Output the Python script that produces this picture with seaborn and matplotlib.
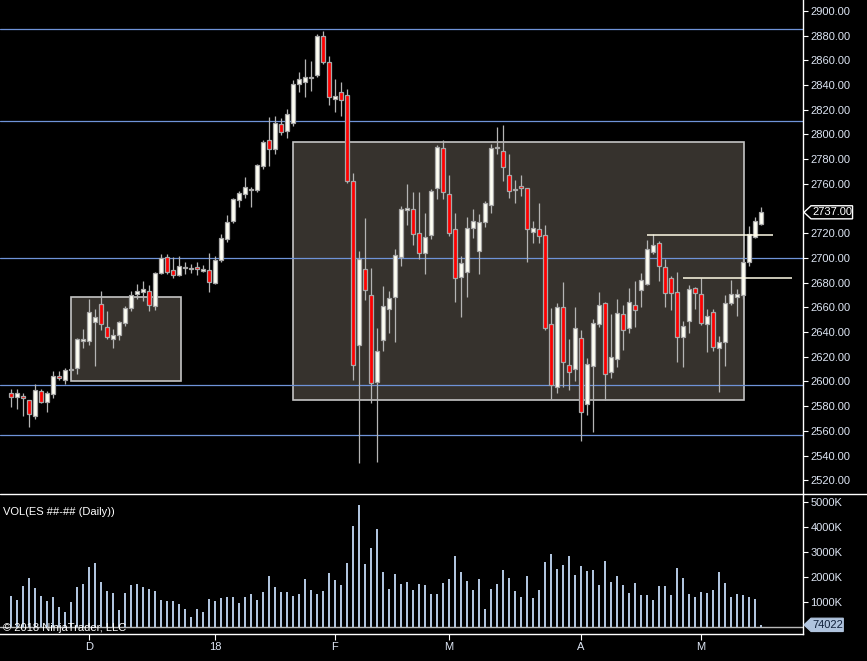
import numpy as np
import pandas as pd
import matplotlib
matplotlib.use("Agg")
import matplotlib.pyplot as plt
from matplotlib.patches import Rectangle, Polygon
from matplotlib.lines import Line2D
import seaborn as sns

# daily OHLC
opens = [2590.4, 2587.7, 2588.0, 2584.8, 2572.4, 2592.1, 2583.7, 2590.2, 2604.2, 2601.0,
         2609.5, 2610.7, 2633.5, 2633.1, 2648.5, 2662.8, 2643.9, 2634.7, 2638.0, 2647.7,
         2659.5, 2671.1, 2672.8, 2673.6, 2661.0, 2688.1, 2700.8, 2690.0, 2686.5, 2692.4,
         2691.6, 2692.4, 2689.2, 2690.0, 2680.0, 2698.7, 2715.7, 2730.2, 2746.7, 2751.6,
         2755.3, 2755.3, 2774.2, 2795.3, 2788.0, 2808.2, 2802.6, 2809.0, 2840.6, 2842.2,
         2845.7, 2847.9, 2879.5, 2858.4, 2828.5, 2834.1, 2831.7, 2762.1, 2629.3, 2690.8,
         2669.8, 2599.3, 2633.3, 2658.4, 2668.1, 2700.5, 2739.6, 2739.4, 2720.0, 2703.8,
         2718.3, 2756.4, 2788.8, 2751.6, 2723.2, 2684.3, 2688.4, 2724.0, 2705.4, 2728.9,
         2742.6, 2789.3, 2786.9, 2766.9, 2755.1, 2758.0, 2756.4, 2721.3, 2723.2, 2718.6,
         2646.3, 2595.3, 2660.3, 2613.1, 2609.9, 2635.0, 2581.5, 2612.3, 2646.3, 2663.3,
         2607.4, 2618.0, 2654.4, 2643.0, 2661.7, 2673.8, 2679.2, 2704.6, 2711.9, 2692.4,
         2683.5, 2672.2, 2635.8, 2648.7, 2675.4, 2670.6, 2646.3, 2656.0, 2626.9, 2631.7,
         2663.3, 2668.2, 2669.8, 2696.5, 2716.7, 2727.3]
highs = [2594.0, 2594.0, 2590.7, 2585.2, 2597.7, 2594.0, 2592.3, 2608.5, 2608.5, 2610.7,
         2610.7, 2635.2, 2642.5, 2666.8, 2658.7, 2673.3, 2657.1, 2642.5, 2649.0, 2661.4,
         2673.0, 2678.7, 2681.1, 2678.4, 2689.0, 2703.2, 2703.2, 2700.8, 2701.6, 2696.8,
         2695.1, 2696.8, 2694.3, 2704.0, 2701.6, 2719.2, 2734.6, 2748.3, 2754.0, 2765.3,
         2757.2, 2775.9, 2795.3, 2813.9, 2814.7, 2813.1, 2820.4, 2843.9, 2850.3, 2860.9,
         2859.2, 2881.1, 2883.5, 2863.3, 2844.7, 2842.2, 2836.6, 2768.6, 2705.7, 2732.1,
         2691.9, 2643.3, 2677.3, 2673.3, 2707.6, 2741.8, 2759.9, 2753.4, 2753.4, 2736.4,
         2755.9, 2791.2, 2795.3, 2766.9, 2736.2, 2701.3, 2732.9, 2739.4, 2735.3, 2745.9,
         2792.0, 2805.8, 2807.4, 2783.9, 2763.2, 2767.2, 2757.0, 2730.0, 2744.3, 2726.7,
         2659.8, 2663.6, 2680.6, 2634.1, 2660.3, 2641.4, 2618.8, 2650.3, 2672.5, 2664.1,
         2654.4, 2666.8, 2661.7, 2675.7, 2681.4, 2687.9, 2714.6, 2719.2, 2713.5, 2698.9,
         2685.2, 2688.4, 2648.7, 2677.9, 2676.2, 2683.5, 2658.4, 2658.4, 2636.6, 2669.8,
         2682.2, 2674.9, 2700.5, 2725.6, 2732.9, 2741.0]
lows = [2579.6, 2578.0, 2572.4, 2563.5, 2570.0, 2582.4, 2575.6, 2587.0, 2601.0, 2597.7,
        2609.0, 2605.8, 2627.4, 2629.9, 2612.6, 2641.5, 2634.7, 2627.4, 2633.9, 2645.2,
        2657.4, 2666.6, 2665.0, 2656.8, 2658.0, 2687.0, 2687.3, 2684.1, 2685.7, 2687.3,
        2688.1, 2686.5, 2688.4, 2672.7, 2679.2, 2697.0, 2713.2, 2728.6, 2741.6, 2748.3,
        2741.6, 2753.2, 2771.8, 2774.2, 2784.0, 2799.3, 2796.9, 2807.2, 2834.1, 2830.6,
        2835.5, 2846.3, 2856.8, 2823.6, 2818.0, 2814.7, 2760.5, 2600.9, 2534.3, 2665.7,
        2582.3, 2535.1, 2625.0, 2639.6, 2632.3, 2693.8, 2727.0, 2710.8, 2698.9, 2687.3,
        2715.1, 2747.5, 2747.5, 2717.5, 2664.1, 2652.0, 2668.7, 2715.9, 2686.8, 2724.8,
        2736.2, 2783.9, 2762.6, 2748.3, 2744.8, 2750.5, 2697.0, 2712.4, 2712.4, 2642.0,
        2586.1, 2591.0, 2595.8, 2593.4, 2600.7, 2552.1, 2573.1, 2559.4, 2644.4, 2585.0,
        2602.6, 2612.0, 2625.8, 2639.5, 2643.9, 2660.6, 2678.1, 2703.5, 2681.7, 2660.1,
        2657.6, 2616.1, 2611.5, 2639.5, 2658.4, 2645.5, 2623.6, 2624.4, 2591.2, 2612.3,
        2661.7, 2652.8, 2666.5, 2693.3, 2715.9, 2726.5]
closes = [2587.2, 2590.4, 2586.4, 2573.4, 2592.9, 2583.7, 2590.4, 2604.2, 2602.6, 2609.1,
          2610.0, 2634.4, 2633.7, 2656.3, 2652.0, 2646.3, 2636.3, 2637.4, 2648.2, 2659.3,
          2669.8, 2673.0, 2674.7, 2661.7, 2687.6, 2700.0, 2688.9, 2686.5, 2693.3, 2692.6,
          2691.8, 2690.8, 2691.1, 2680.8, 2698.1, 2715.9, 2728.9, 2747.5, 2752.4, 2757.2,
          2755.5, 2775.0, 2793.7, 2788.0, 2809.0, 2801.8, 2816.3, 2840.6, 2844.7, 2846.3,
          2845.9, 2879.5, 2858.4, 2830.1, 2830.9, 2827.7, 2762.1, 2613.1, 2699.5, 2673.8,
          2598.5, 2624.4, 2660.9, 2667.3, 2702.2, 2739.4, 2739.8, 2719.2, 2703.8, 2716.7,
          2754.2, 2789.6, 2753.4, 2720.0, 2683.5, 2695.7, 2724.0, 2729.7, 2728.9, 2744.3,
          2788.8, 2789.5, 2773.4, 2753.9, 2755.3, 2756.4, 2723.2, 2724.0, 2718.1, 2643.6,
          2597.4, 2660.3, 2616.1, 2607.4, 2643.0, 2575.0, 2613.9, 2647.1, 2661.7, 2605.8,
          2619.6, 2655.2, 2641.4, 2664.1, 2657.6, 2681.9, 2707.0, 2710.3, 2693.3, 2671.4,
          2671.4, 2635.8, 2644.7, 2674.6, 2671.4, 2647.1, 2652.8, 2627.7, 2631.7, 2663.3,
          2670.6, 2670.6, 2696.5, 2719.2, 2729.7, 2737.0]
# daily volume in thousands of contracts
volume_k = [1230, 1050, 1630, 1940, 1540, 1230, 1010, 1170, 770, 570,
            970, 1580, 1700, 2380, 2550, 1780, 1410, 1330, 650, 1330,
            1660, 1700, 1580, 1490, 1410, 1050, 1010, 1010, 890, 690,
            400, 690, 570, 1090, 1010, 1130, 1170, 1170, 930, 1170,
            1290, 1050, 1370, 2020, 1580, 1370, 1370, 1210, 1290, 1900,
            1450, 1290, 1410, 2140, 1860, 1660, 2550, 4040, 4850, 2510,
            3150, 3920, 2180, 1490, 2100, 1700, 1780, 1460, 1700, 1660,
            1300, 1300, 1740, 1900, 2830, 2190, 1830, 1460, 1900, 700,
            1500, 1700, 2270, 1950, 1420, 1180, 2010, 1140, 1460, 2590,
            2910, 2310, 2470, 2830, 2070, 2430, 2230, 2270, 1660, 2630,
            1780, 2030, 1660, 1340, 1740, 1260, 1260, 1060, 1620, 1620,
            1260, 2350, 1950, 1300, 1180, 1380, 1340, 1460, 2190, 1740,
            1180, 1300, 1260, 1180, 1100, 74.022]

month_ticks = [13, 34, 54, 73, 95, 115]
month_labels = ["D", "18", "F", "M", "A", "M"]

# drawn levels and zones
levels = [2885.2, 2810.7, 2700.0, 2596.9, 2556.4]
zone_start = [10.05, 47.05]
zone_end = [28.3, 122.2]
zone_low = [2600.2, 2585.0]
zone_high = [2668.2, 2793.7]
short_levels = [2718.6, 2683.5]
short_start = [106.05, 112.05]
short_end = [126.95, 130.1]

W, H = 867, 661
BG = "black"
TXT = "#dde5f3"

sns.set_style("dark", rc={"axes.facecolor": BG, "figure.facecolor": BG,
                          "axes.edgecolor": "white", "text.color": TXT})
plt.rcParams["font.family"] = ["Liberation Sans", "DejaVu Sans"]

df = pd.DataFrame({"o": opens, "h": highs, "l": lows, "c": closes, "v": volume_k})
df["x"] = np.arange(len(df))

fig = plt.figure(figsize=(W / 100, H / 100), dpi=100)
ax = fig.add_axes([0, (H - 494) / H, 803 / W, 494 / H])
axv = fig.add_axes([0, (H - 634) / H, 803 / W, 140 / H])

# price panel
for s, e, lo, hi in zip(zone_start, zone_end, zone_low, zone_high):
    ax.add_patch(Rectangle((s, lo), e - s, hi - lo, facecolor="#36322d",
                           edgecolor="#c4c4c4", lw=1.2, zorder=1))
for lv in levels:
    ax.axhline(lv, color="#6f93d8", lw=0.9, zorder=2)

ax.vlines(df.x, df.l, df.h, color="#b4b4b4", lw=0.9, zorder=3)
up = df.c >= df.o
body = (df.c - df.o).abs()
small = body < 0.9
mid = (df.o + df.c) / 2
bottoms = np.where(small, mid - 0.45, np.minimum(df.o, df.c))
heights = np.where(small, 0.9, body)
ax.bar(df.x, heights, bottom=bottoms, width=0.72,
       color=np.where(up, "#fffff4", "#ff0000"), edgecolor="#a8a8a8",
       linewidth=0.9, zorder=4)

for lv, s, e in zip(short_levels, short_start, short_end):
    ax.hlines(lv, s, e, color="#fffbe6", lw=1.1, zorder=5)

ax.set_xlim(-11 / 6, 132)
ax.set_ylim(2508.9, 2908.9)
pticks = [t for t in range(2520, 2901, 20) if t != 2740]
ax.set_yticks(pticks)
ax.set_yticklabels([f"{t:.2f}" for t in pticks])
ax.yaxis.tick_right()
ax.set_xticks([])
ax.tick_params(axis="y", right=True, left=False, colors="white", labelcolor=TXT,
               length=3.8, width=0.8, pad=1.5, labelsize=8)
for sp in ["left", "top", "bottom"]:
    ax.spines[sp].set_visible(False)
ax.spines["right"].set_color("white")
ax.spines["right"].set_linewidth(1.0)

# last price marker
last = closes[-1]
ytr = ax.get_yaxis_transform()
dy = 5.3
ax.add_patch(Polygon([(1.0012, last), (1.0100, last + dy), (1.0617, last + dy),
                      (1.0617, last - dy), (1.0100, last - dy)], closed=True,
                     transform=ytr, facecolor="black", edgecolor="white",
                     lw=1.0, clip_on=False, zorder=6))
ax.text(1.0112, last, f"{last:.2f}", transform=ytr, ha="left", va="center",
        color="white", fontsize=8, zorder=7, clip_on=False)

# volume panel
sns.barplot(x=df.x, y=df.v, native_scale=True, color="#b0c4de", saturation=1,
            width=0.4, errorbar=None, linewidth=0, ax=axv, zorder=3)
axv.axhline(0, color="#b8b8b8", lw=1.0, zorder=2)
axv.set_xlim(-11 / 6, 132)
axv.set_ylim(-292, 5308)
axv.set_xlabel("")
axv.set_ylabel("")
vticks = [1000, 2000, 3000, 4000, 5000]
axv.set_yticks(vticks)
axv.set_yticklabels([f"{t}K" for t in vticks])
axv.yaxis.tick_right()
axv.set_xticks(month_ticks)
axv.set_xticklabels(month_labels)
axv.tick_params(axis="y", right=True, left=False, colors="white", labelcolor=TXT,
                length=3.8, width=0.8, pad=1.5, labelsize=8)
axv.tick_params(axis="x", bottom=True, colors="white", labelcolor=TXT,
                length=4.3, width=0.8, pad=1.5, labelsize=8)
for sp in ["left", "top"]:
    axv.spines[sp].set_visible(False)
for sp in ["right", "bottom"]:
    axv.spines[sp].set_color("white")
    axv.spines[sp].set_linewidth(1.0)

lastv = volume_k[-1]
vtr = axv.get_yaxis_transform()
dv = 268
axv.add_patch(Polygon([(1.0012, lastv), (1.0100, lastv + dv), (1.0502, lastv + dv),
                       (1.0502, lastv - dv), (1.0100, lastv - dv)], closed=True,
                      transform=vtr, facecolor="#b0c4de", edgecolor="#b0c4de",
                      lw=0.8, clip_on=False, zorder=6))
axv.text(1.0118, lastv, f"{int(round(lastv * 1000))}", transform=vtr, ha="left",
         va="center", color="#10203a", fontsize=8, zorder=7, clip_on=False)

# panel separator across the full width
fig.add_artist(Line2D([0, 1], [(H - 494) / H] * 2, transform=fig.transFigure,
                      color="white", lw=1.0))

fig.text(3 / W, 1 - 512 / H, "VOL(ES ##-## (Daily))", color="white",
         fontsize=8, va="center", ha="left")
fig.text(3 / W, 1 - 628 / H, "\u00a9 2018 NinjaTrader, LLC", color="white",
         fontsize=8, va="center", ha="left")

fig.savefig("out.png", dpi=100, facecolor=BG)
